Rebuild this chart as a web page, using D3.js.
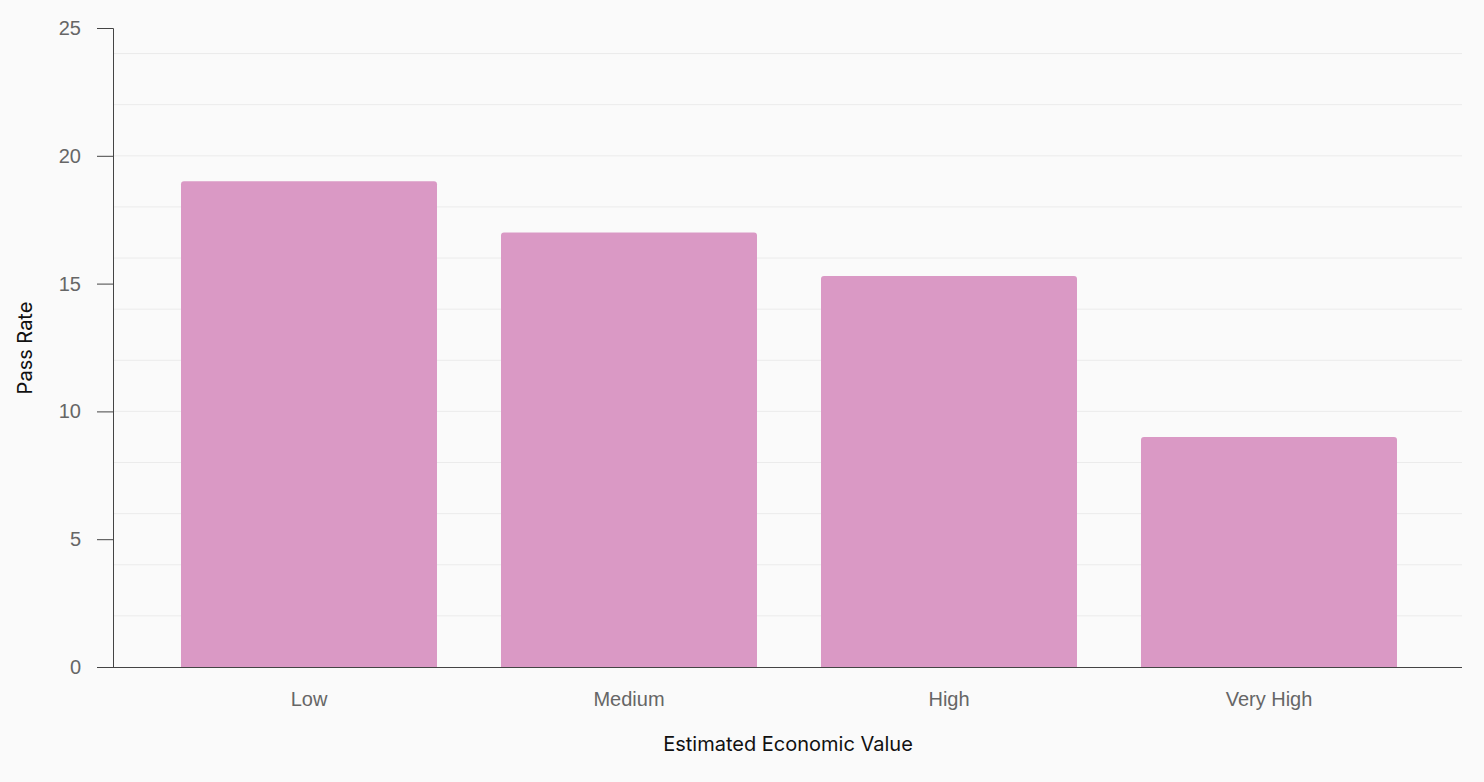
<!DOCTYPE html>
<html>
<head>
<meta charset="utf-8">
<script src="https://cdn.jsdelivr.net/npm/d3@7"></script>
<style>
  body { margin: 0; background: #fafafa; }
  svg { display: block; font-family: "Inter", "Liberation Sans", sans-serif; }
</style>
</head>
<body>
<svg id="chart" width="1484" height="782"></svg>
<script>
const categories = ["Low", "Medium", "High", "Very High"];
const passRate = [19.0, 17.0, 15.3, 9.0];
const yTicks = [0, 5, 10, 15, 20, 25];
const gridValues = [2, 4, 6, 8, 10, 12, 14, 16, 18, 20, 22, 24];

const BAR_COLOR = "#da99c5";
const TEXT_COLOR = "#666";

const svg = d3.select("#chart");

const x = d3.scaleBand().domain(categories).range([149, 1429]).paddingInner(0.2).paddingOuter(0.1);
const y = d3.scaleLinear().domain([0, 25]).range([667, 28]);

svg.append("rect").attr("width", 1484).attr("height", 782).attr("fill", "#fafafa");

// grid
svg.append("g")
  .selectAll("line")
  .data(gridValues)
  .join("line")
  .attr("x1", 113).attr("x2", 1462)
  .attr("y1", d => y(d)).attr("y2", d => y(d))
  .attr("stroke", "#ebebeb")
  .attr("stroke-width", 1);

// bars with rounded tops
svg.append("g")
  .selectAll("path")
  .data(categories)
  .join("path")
  .attr("fill", BAR_COLOR)
  .attr("d", (c, i) => {
    const x0 = x(c), w = x.bandwidth(), y0 = y(passRate[i]), y1 = y(0), r = 3;
    return `M${x0},${y1}V${y0 + r}Q${x0},${y0} ${x0 + r},${y0}H${x0 + w - r}Q${x0 + w},${y0} ${x0 + w},${y0 + r}V${y1}Z`;
  });

// y axis
const yAxis = svg.append("g")
  .attr("transform", "translate(113,0)")
  .call(d3.axisLeft(y).tickValues(yTicks).tickSize(16).tickPadding(16));
yAxis.select(".domain").attr("stroke", "#444");
yAxis.selectAll(".tick line").attr("stroke", "#444");
yAxis.selectAll(".tick text").attr("fill", TEXT_COLOR).style("font-size", "20px");

// x axis
const xAxis = svg.append("g")
  .attr("transform", "translate(0,667)")
  .call(d3.axisBottom(x).tickSize(0).tickPadding(25));
xAxis.select(".domain").attr("d", "M113,0.5H1462").attr("stroke", "#444");
xAxis.selectAll(".tick text").attr("fill", TEXT_COLOR).style("font-size", "20px");

svg.append("text")
  .attr("x", 788).attr("y", 751)
  .attr("text-anchor", "middle")
  .style("font-size", "20px")
  .attr("fill", "#111")
  .text("Estimated Economic Value");

svg.append("text")
  .attr("transform", "translate(32,348) rotate(-90)")
  .attr("text-anchor", "middle")
  .style("font-size", "20px")
  .attr("fill", "#111")
  .text("Pass Rate");
</script>
</body>
</html>
